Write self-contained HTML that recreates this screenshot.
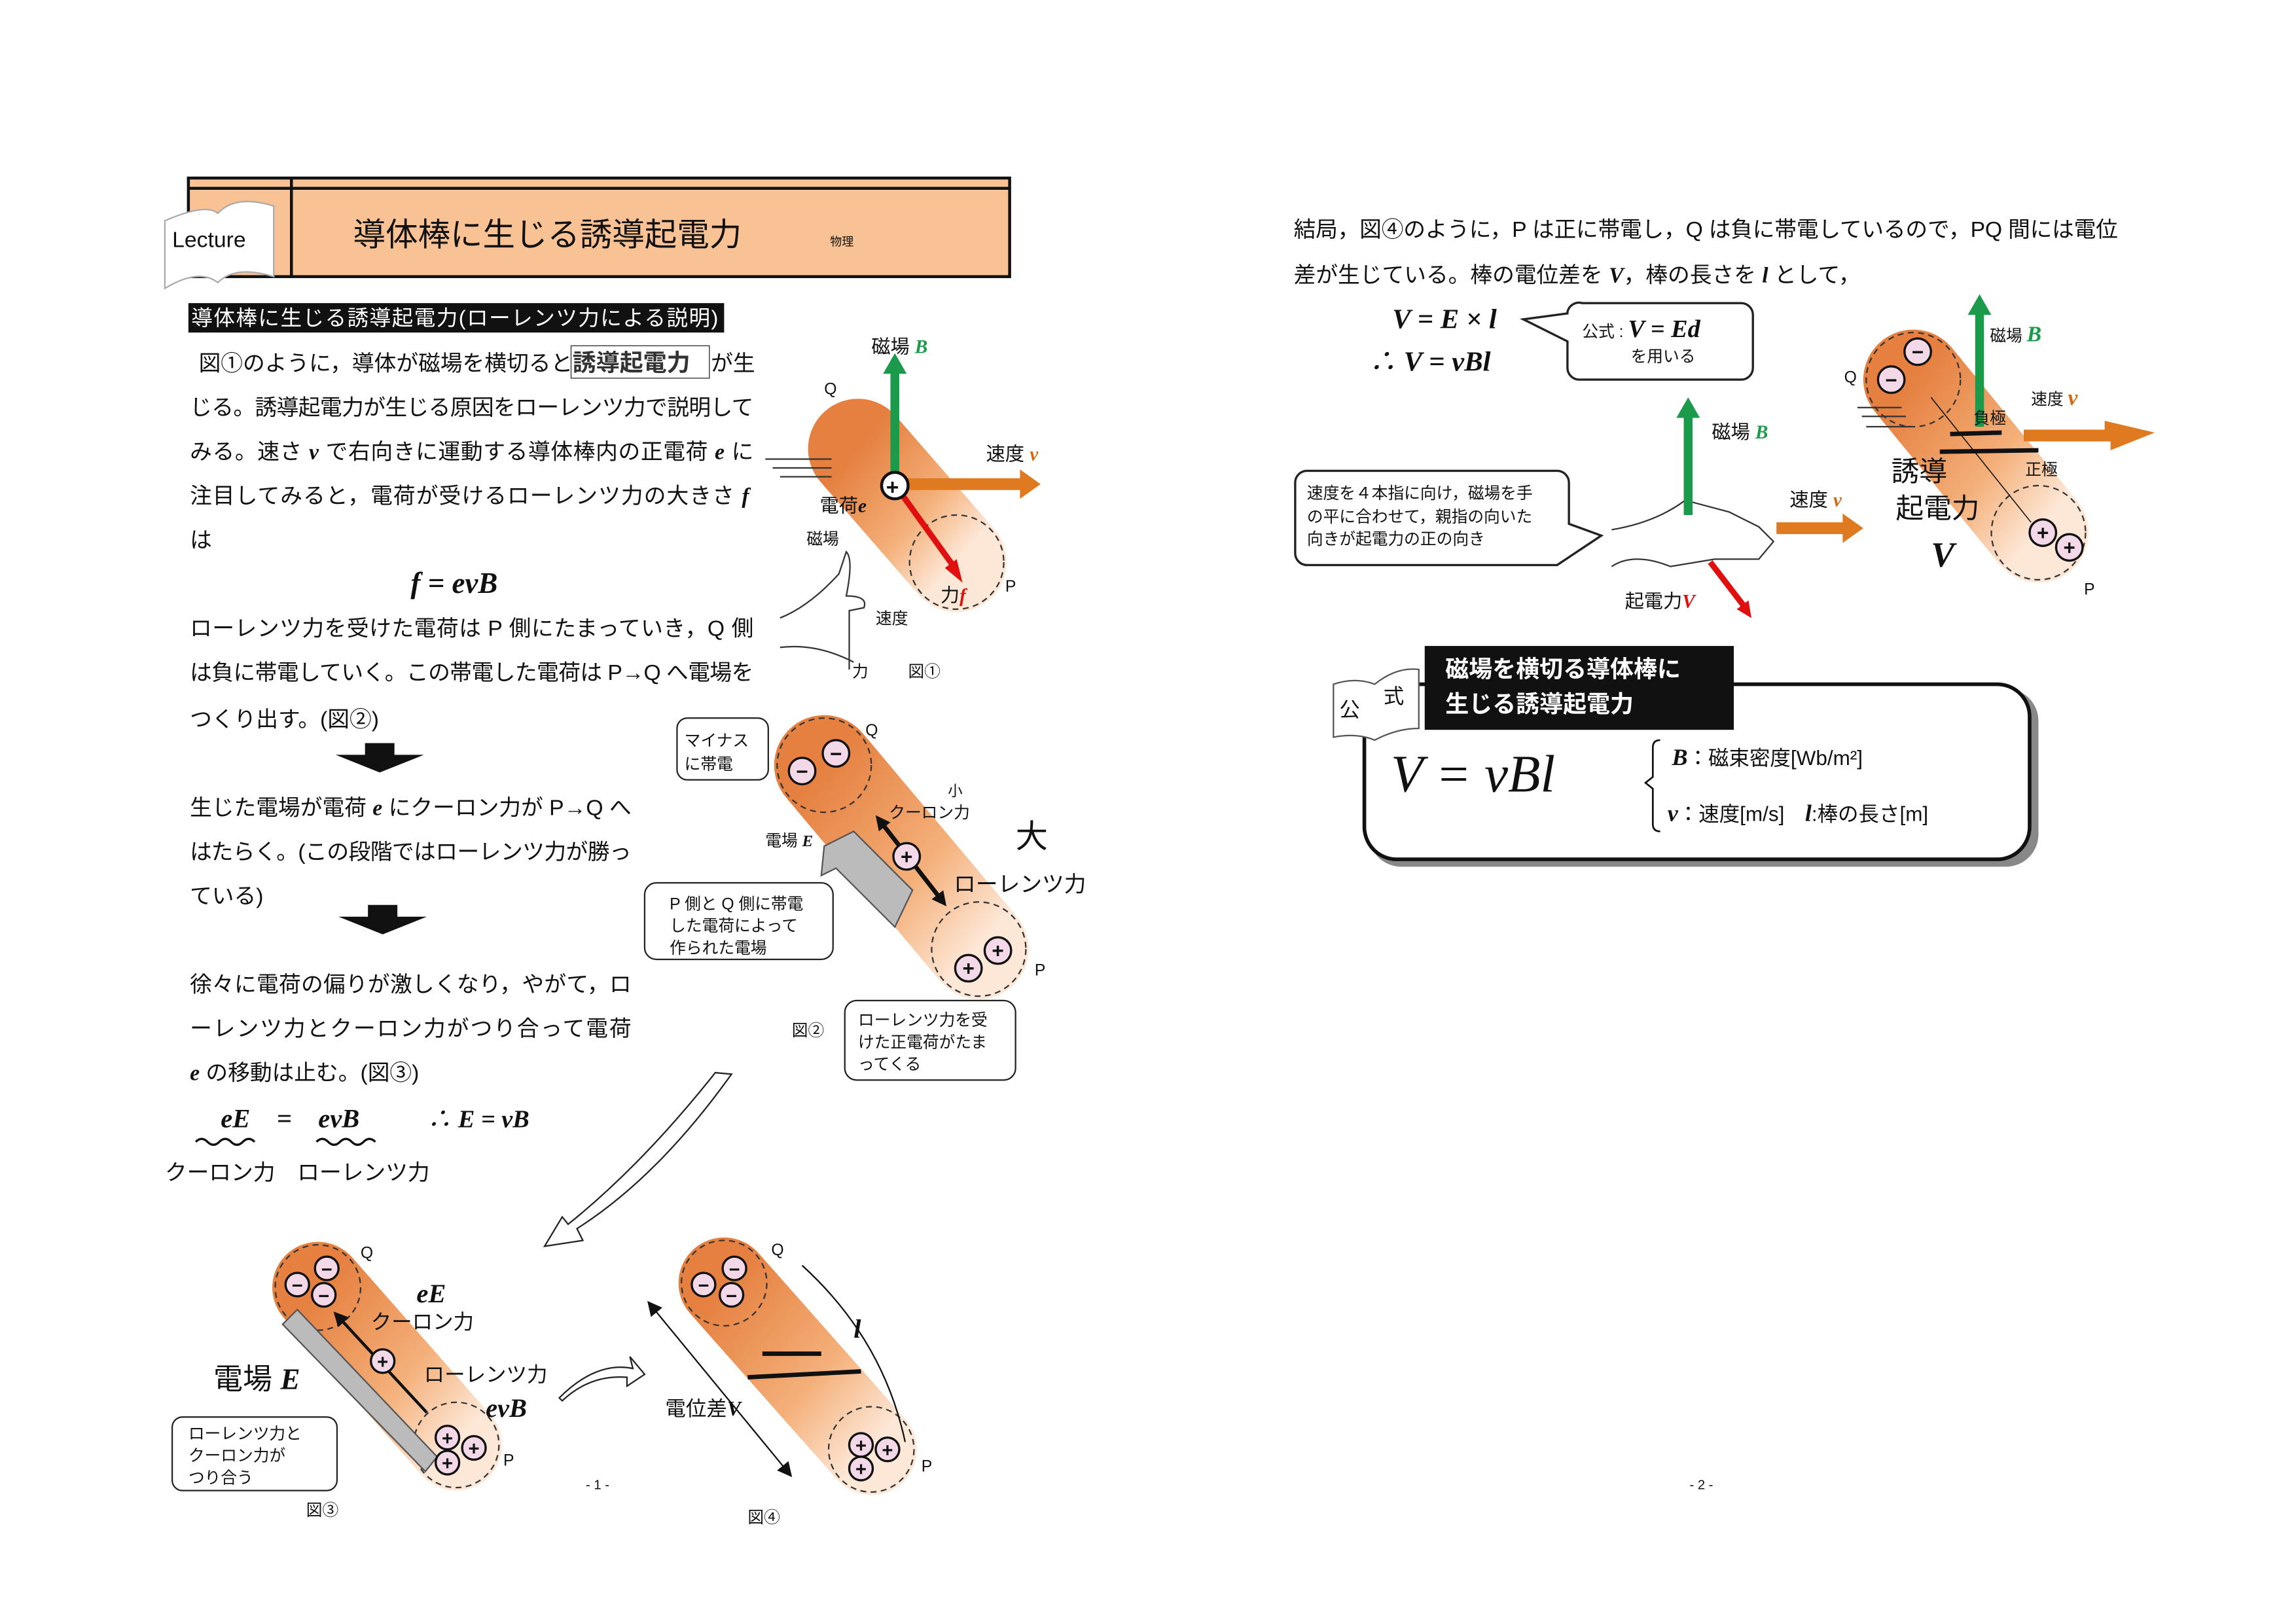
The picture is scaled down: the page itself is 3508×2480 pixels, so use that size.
<!DOCTYPE html>
<html><head><meta charset="utf-8"><style>
html,body{margin:0;padding:0;background:#fff}
svg{display:block}
text{font-family:"Liberation Sans","Noto Sans CJK JP",sans-serif;fill:#111}
.b{font-size:15px}
.s{font-size:11px}
.m{font-family:"Liberation Serif","Noto Serif CJK SC",serif;font-style:italic;font-weight:bold}
</style></head><body>
<svg width="3508" height="2480" viewBox="0 0 1560 1103" preserveAspectRatio="none" xmlns="http://www.w3.org/2000/svg">
<defs>
<linearGradient id="cg" x1="0" y1="0" x2="1" y2="1"><stop offset="0" stop-color="#e58040"/><stop offset="0.6" stop-color="#f4b07a"/><stop offset="1" stop-color="#fde8d8"/></linearGradient>
<marker id="ah" markerUnits="userSpaceOnUse" markerWidth="10" markerHeight="10" refX="5" refY="5" orient="auto-start-reverse"><path d="M0,0L10,5L0,10z" fill="#111"/></marker>
</defs>
<!-- header -->
<rect x="128" y="121" width="558" height="67" fill="#f9c294" stroke="#111" stroke-width="2"/>
<line x1="128" y1="128" x2="686" y2="128" stroke="#111" stroke-width="2"/>
<line x1="198" y1="121" x2="198" y2="188" stroke="#111" stroke-width="2"/>
<path d="M112,150 Q140,138 148,145 Q160,132 186,140 L186,188 Q160,180 148,192 Q135,182 112,196z" fill="#fff" stroke="#aaa"/>
<text x="117" y="168" style="font-size:15px">Lecture</text>
<text x="240" y="167" style="font-size:22px">導体棒に生じる誘導起電力</text>
<text x="564" y="167" style="font-size:8px">物理</text>
<rect x="128" y="206" width="364" height="20" fill="#111"/>
<text x="130" y="221" style="font-size:14.5px;fill:#fff" textLength="358">導体棒に生じる誘導起電力(ローレンツ力による説明)</text>
<!-- left text -->
<g class="b">
<text x="135" y="252">図①のように，導体が磁場を横切ると</text>
<rect x="388" y="235" width="94" height="22" fill="none" stroke="#333" stroke-width="0.6"/>
<text x="389" y="252" style="font-size:16px;font-weight:bold;fill:#333">誘導起電力</text><text x="483" y="252">が生</text>
<text x="129" y="282" textLength="383">じる。誘導起電力が生じる原因をローレンツ力で説明して</text>
<text x="129" y="312" textLength="383">みる。速さ <tspan class="m">v</tspan> で右向きに運動する導体棒内の正電荷 <tspan class="m">e</tspan> に</text>
<text x="129" y="342" textLength="380">注目してみると，電荷が受けるローレンツ力の大きさ <tspan class="m">f</tspan></text>
<text x="129" y="372">は</text>
<text x="279" y="403" class="m" style="font-size:20px">f = evB</text>
<text x="129" y="432" textLength="383">ローレンツ力を受けた電荷は P 側にたまっていき，Q 側</text>
<text x="129" y="462" textLength="383">は負に帯電していく。この帯電した電荷は P→Q へ電場を</text>
<text x="129" y="494">つくり出す。(図②)</text>
<text x="129" y="554" textLength="300">生じた電場が電荷 <tspan class="m">e</tspan> にクーロン力が P→Q へ</text>
<text x="129" y="584" textLength="300">はたらく。(この段階ではローレンツ力が勝っ</text>
<text x="129" y="614">ている)</text>
<text x="129" y="674" textLength="300">徐々に電荷の偏りが激しくなり，やがて，ロ</text>
<text x="129" y="704" textLength="300">ーレンツ力とクーロン力がつり合って電荷</text>
<text x="129" y="734"><tspan class="m">e</tspan> の移動は止む。(図③)</text>
<text x="112" y="802" textLength="180">クーロン力　ローレンツ力</text>
</g>
<path d="M248,505h20v8h20l-30,12l-30,-12h20z" fill="#111"/>
<path d="M250,615h20v8h20l-30,12l-30,-12h20z" fill="#111"/>
<text x="150" y="766" class="m" style="font-size:18px">eE　=　evB</text>
<text x="290" y="766" class="m" style="font-size:17px">∴ E = vB</text>
<path d="M133,776q4,-4 8,0t8,0t8,0t8,0t8,0M215,776q4,-4 8,0t8,0t8,0t8,0t8,0" fill="none" stroke="#111" stroke-width="1.5"/>
<!-- cylinders -->
<g stroke="url(#cg)" stroke-linecap="round">
<line x1="583" y1="305" x2="650" y2="382" stroke-width="68"/>
<line x1="560" y1="520" x2="665" y2="645" stroke-width="68"/>
<line x1="216" y1="875" x2="310" y2="982" stroke-width="62"/>
<line x1="492" y1="872" x2="592" y2="985" stroke-width="62"/>
<line x1="1300" y1="258" x2="1385" y2="362" stroke-width="68"/>
</g>
<g fill="none" stroke="#333" stroke-dasharray="4 3">
<circle cx="650" cy="382" r="32"/><circle cx="560" cy="520" r="32"/><circle cx="665" cy="645" r="32"/>
<circle cx="216" cy="875" r="29"/><circle cx="310" cy="982" r="29"/><circle cx="492" cy="872" r="29"/><circle cx="592" cy="985" r="29"/>
<circle cx="1300" cy="258" r="32"/><circle cx="1385" cy="362" r="32"/>
</g>
<!-- fig1 -->
<line x1="608" y1="330" x2="608" y2="250" stroke="#1a9a4a" stroke-width="6"/><path d="M600,254l8,-14l8,14z" fill="#1a9a4a"/>
<path d="M613,325h80v-6l14,10l-14,10v-6h-80z" fill="#e07a20"/>
<line x1="612" y1="335" x2="648" y2="385" stroke="#e01010" stroke-width="4"/><path d="M642,386l12,10l-4,-16z" fill="#e01010"/>
<circle cx="608" cy="330" r="9" fill="#fff" stroke="#111" stroke-width="2"/><text x="602" y="336" style="font-size:15px;font-weight:bold">+</text>
<g class="s" style="font-size:13px"><text x="592" y="240">磁場 <tspan class="m" style="fill:#1a9a4a">B</tspan></text><text x="670" y="313">速度 <tspan class="m" style="fill:#d06a10">v</tspan></text>
<text x="557" y="348">電荷<tspan class="m">e</tspan></text><text x="639" y="409">力<tspan class="m" style="fill:#e01010">f</tspan></text></g>
<g class="s"><text x="560" y="268">Q</text><text x="683" y="402">P</text><text x="548" y="370">磁場</text><text x="595" y="424">速度</text><text x="579" y="460">力</text><text x="617" y="460">図①</text></g>
<path d="M530,420q20,-8 40,-30l5,-15q5,5 0,30q15,0 12,8l-10,2q0,20 0,40M530,440q25,-3 50,10" fill="none" stroke="#333"/>
<path d="M520,312h45M525,318h40M530,324h35" stroke="#333"/>
<!-- fig2 -->
<g class="s">
<rect x="460" y="488" width="62" height="42" rx="7" fill="#fff" stroke="#222"/><text x="465" y="507">マイナス</text><text x="465" y="523">に帯電</text>
<text x="588" y="500">Q</text><text x="703" y="663">P</text><text x="644" y="541" style="font-size:10px">小</text><text x="604" y="556">クーロン力</text>
<text x="520" y="575">電場 <tspan class="m">E</tspan></text><text x="538" y="704">図②</text>
<rect x="438" y="600" width="128" height="52" rx="8" fill="#fff" stroke="#222"/><text x="455" y="618">P 側と Q 側に帯電</text><text x="455" y="633">した電荷によって</text><text x="455" y="648">作られた電場</text>
<rect x="574" y="680" width="116" height="54" rx="8" fill="#fff" stroke="#222"/><text x="583" y="697">ローレンツ力を受</text><text x="583" y="712">けた正電荷がたま</text><text x="583" y="727">ってくる</text>
</g>
<text x="690" y="576" style="font-size:22px">大</text><text x="648" y="606" style="font-size:15px">ローレンツ力</text>
<path d="M560,575l20,-10l40,40l-12,25l-40,-40l-10,5z" fill="#bbb" stroke="#555"/>
<line x1="598" y1="558" x2="640" y2="612" stroke="#111" stroke-width="3" marker-end="url(#ah)" marker-start="url(#ah)"/>
<g fill="#f3d8e8" stroke="#111" stroke-width="1.5"><circle cx="545" cy="524" r="9"/><circle cx="568" cy="512" r="9"/><circle cx="616" cy="582" r="9"/><circle cx="658" cy="658" r="9"/><circle cx="678" cy="646" r="9"/></g>
<g style="font-weight:bold;font-size:14px" text-anchor="middle"><text x="545" y="529">−</text><text x="568" y="517">−</text><text x="616" y="587">+</text><text x="658" y="663">+</text><text x="678" y="651">+</text></g>
<!-- big arrow -->
<path d="M497,730q-50,70 -105,105l4,8l-26,4l12,-20l4,5q50,-40 100,-103z" fill="#fff" stroke="#222"/>
<!-- fig3 -->
<path d="M192,900l10,-10l95,100l-8,10z" fill="#bbb" stroke="#555"/>
<line x1="230" y1="895" x2="290" y2="960" stroke="#111" stroke-width="2" marker-start="url(#ah)"/>
<g fill="#f3d8e8" stroke="#111" stroke-width="1.5"><circle cx="202" cy="873" r="8"/><circle cx="222" cy="862" r="8"/><circle cx="220" cy="880" r="8"/><circle cx="260" cy="925" r="8"/><circle cx="304" cy="977" r="8"/><circle cx="322" cy="984" r="8"/><circle cx="304" cy="994" r="8"/></g>
<g style="font-weight:bold;font-size:13px" text-anchor="middle"><text x="202" y="878">−</text><text x="222" y="867">−</text><text x="220" y="885">−</text><text x="260" y="930">+</text><text x="304" y="982">+</text><text x="322" y="989">+</text><text x="304" y="999">+</text></g>
<text x="283" y="885" class="m" style="font-size:18px">eE</text><text x="252" y="903" style="font-size:14px">クーロン力</text>
<text x="288" y="939" style="font-size:14px">ローレンツ力</text><text x="330" y="963" class="m" style="font-size:18px">evB</text>
<text x="145" y="944" style="font-size:20px">電場 <tspan class="m">E</tspan></text>
<g class="s"><text x="245" y="855">Q</text><text x="342" y="996">P</text><text x="208" y="1030">図③</text><text x="398" y="1012" style="font-size:9px">- 1 -</text><text x="1148" y="1012" style="font-size:9px">- 2 -</text>
<rect x="117" y="963" width="112" height="50" rx="7" fill="#fff" stroke="#222"/><text x="128" y="978">ローレンツ力と</text><text x="128" y="993">クーロン力が</text><text x="128" y="1008">つり合う</text></g>
<path d="M380,950q25,-25 50,-20l-2,-8l10,12l-12,8l0,-6q-25,-2 -44,16z" fill="#fff" stroke="#222"/>
<!-- fig4 -->
<g fill="#f3d8e8" stroke="#111" stroke-width="1.5"><circle cx="478" cy="873" r="8"/><circle cx="499" cy="862" r="8"/><circle cx="497" cy="880" r="8"/><circle cx="585" cy="982" r="8"/><circle cx="603" cy="985" r="8"/><circle cx="585" cy="998" r="8"/></g>
<g style="font-weight:bold;font-size:13px" text-anchor="middle"><text x="478" y="878">−</text><text x="499" y="867">−</text><text x="497" y="885">−</text><text x="585" y="987">+</text><text x="603" y="990">+</text><text x="585" y="1003">+</text></g>
<line x1="518" y1="920" x2="558" y2="920" stroke="#111" stroke-width="3"/><line x1="508" y1="936" x2="585" y2="932" stroke="#111" stroke-width="3"/>
<line x1="443" y1="888" x2="535" y2="1000" stroke="#111" marker-start="url(#ah)" marker-end="url(#ah)"/>
<path d="M545,860q55,50 70,120" fill="none" stroke="#111"/>
<text x="580" y="909" class="m" style="font-size:18px">l</text><text x="452" y="962" style="font-size:14px">電位差<tspan class="m">V</tspan></text>
<g class="s"><text x="524" y="853">Q</text><text x="626" y="1000">P</text><text x="508" y="1035">図④</text></g>
<!-- right page -->
<g class="b">
<text x="879" y="161" textLength="560">結局，図④のように，P は正に帯電し，Q は負に帯電しているので，PQ 間には電位</text>
<text x="879" y="192">差が生じている。棒の電位差を <tspan class="m">V</tspan>，棒の長さを <tspan class="m">l</tspan> として，</text>
</g>
<text x="946" y="223" class="m" style="font-size:19px">V = E × l</text>
<text x="930" y="252" class="m" style="font-size:19px">∴ V = vBl</text>
<path d="M1075,206h108a8,8 0 0 1 8,8v36a8,8 0 0 1 -8,8h-110a8,8 0 0 1 -8,-8v-18l-30,-15l30,-4v-1a8,8 0 0 1 10,-6z" fill="#fff" stroke="#222" stroke-width="1.5"/>
<text x="1075" y="229" class="s">公式 : <tspan class="m" style="font-size:17px">V = Ed</tspan></text><text x="1108" y="246" class="s">を用いる</text>
<path d="M888,320h170a8,8 0 0 1 8,8v28l22,8l-30,20h-170a8,8 0 0 1 -8,-8v-48a8,8 0 0 1 8,-8z" fill="#fff" stroke="#222" stroke-width="1.5"/>
<g class="s"><text x="888" y="339">速度を４本指に向け，磁場を手</text><text x="888" y="355">の平に合わせて，親指の向いた</text><text x="888" y="370">向きが起電力の正の向き</text></g>
<path d="M1095,360q30,-5 50,-20l30,8l20,10l10,10l-10,12l-30,0l-30,5q-25,-10 -40,0" fill="#fff" stroke="#333"/>
<line x1="1147" y1="350" x2="1147" y2="280" stroke="#1a9a4a" stroke-width="6"/><path d="M1139,284l8,-14l8,14z" fill="#1a9a4a"/>
<path d="M1207,355h45v-6l14,10l-14,10v-6h-45z" fill="#e07a20"/>
<line x1="1162" y1="382" x2="1185" y2="412" stroke="#e01010" stroke-width="4"/><path d="M1180,414l10,6l-2,-12z" fill="#e01010"/>
<g style="font-size:13px"><text x="1163" y="298">磁場 <tspan class="m" style="fill:#1a9a4a">B</tspan></text><text x="1216" y="344">速度 <tspan class="m" style="fill:#d06a10">v</tspan></text><text x="1104" y="413">起電力<tspan class="m" style="fill:#e01010">V</tspan></text></g>
<!-- right cylinder -->
<line x1="1345" y1="290" x2="1345" y2="210" stroke="#1a9a4a" stroke-width="6"/><path d="M1337,214l8,-14l8,14z" fill="#1a9a4a"/>
<path d="M1375,292h55v-6l34,8l-30,12v-6h-59z" fill="#e07a20"/>
<line x1="1325" y1="295" x2="1360" y2="294" stroke="#111" stroke-width="3"/><line x1="1318" y1="307" x2="1385" y2="306" stroke="#111" stroke-width="3"/>
<line x1="1312" y1="270" x2="1380" y2="355" stroke="#111" stroke-width="0.7"/>
<g fill="#f3d8e8" stroke="#111" stroke-width="1.5"><circle cx="1303" cy="239" r="9"/><circle cx="1285" cy="258" r="9"/><circle cx="1388" cy="362" r="9"/><circle cx="1406" cy="372" r="9"/></g>
<g style="font-weight:bold;font-size:14px" text-anchor="middle"><text x="1303" y="244">−</text><text x="1285" y="263">−</text><text x="1388" y="367">+</text><text x="1406" y="377">+</text></g>
<path d="M1262,277h30M1265,283h30M1268,290h30" stroke="#333"/>
<g class="s"><text x="1352" y="232">磁場 <tspan class="m" style="font-size:15px;fill:#1a9a4a">B</tspan></text><text x="1380" y="275">速度 <tspan class="m" style="font-size:15px;fill:#d06a10">v</tspan></text><text x="1341" y="288">負極</text><text x="1376" y="323">正極</text><text x="1253" y="260">Q</text><text x="1416" y="404">P</text></g>
<text x="1285" y="327" style="font-size:19px">誘導</text><text x="1288" y="352" style="font-size:19px">起電力</text><text x="1312" y="385" class="m" style="font-size:24px">V</text>
<!-- formula box -->
<rect x="930" y="468" width="455" height="121" rx="22" fill="#888"/>
<rect x="927" y="465" width="452" height="119" rx="22" fill="#fff" stroke="#111" stroke-width="2.5"/>
<rect x="968" y="439" width="210" height="57" fill="#111"/>
<text x="982" y="460" style="font-size:16px;font-weight:bold;fill:#fff">磁場を横切る導体棒に</text>
<text x="982" y="484" style="font-size:16px;font-weight:bold;fill:#fff">生じる誘導起電力</text>
<path d="M906,465q15,-5 28,0q15,-12 30,-10v40q-15,0 -30,8q-12,-5 -28,-2z" fill="#fff" stroke="#555"/>
<text x="910" y="487" style="font-size:14px">公</text><text x="940" y="478" style="font-size:14px">式</text>
<text x="945" y="538" class="m" style="font-size:36px;font-weight:normal">V = vBl</text>
<path d="M1128,503q-5,0 -5,5v20l-5,4l5,4v24q0,5 5,5" fill="none" stroke="#111" stroke-width="1.2"/>
<text x="1136" y="520" style="font-size:14px"><tspan class="m" style="font-size:16px">B</tspan>：磁束密度[Wb/m²]</text>
<text x="1133" y="558" style="font-size:14px"><tspan class="m" style="font-size:16px">v</tspan>：速度[m/s]　<tspan class="m" style="font-size:16px">l</tspan>:棒の長さ[m]</text>
</svg>
</body></html>
